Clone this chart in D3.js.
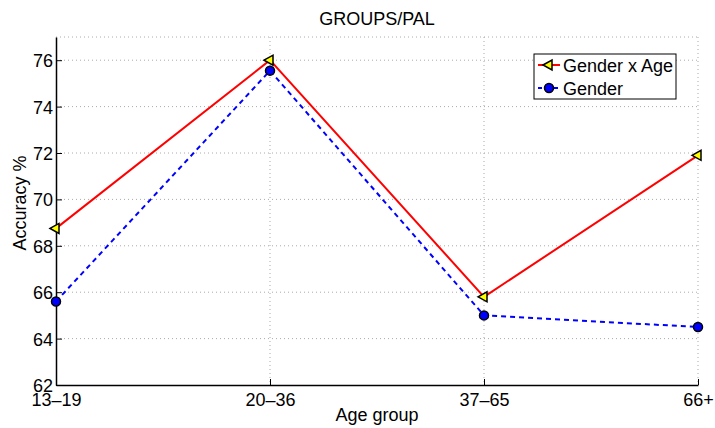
<!DOCTYPE html>
<html>
<head>
<meta charset="utf-8">
<script src="https://cdn.jsdelivr.net/npm/d3@7"></script>
<style>
	body { margin: 0; background: #fff; }
	svg text { font-family: "Liberation Sans", Arial, sans-serif; fill: #000; }
</style>
</head>
<body>
<svg id="chart" width="715" height="428"></svg>
<script>
// data
var ageGroups = ["13\u201319", "20\u201336", "37\u201365", "66+"];
var genderAge = [68.75, 76.0, 65.8, 71.9];
var gender = [65.6, 75.55, 65.0, 64.5];
var yTicks = [62, 64, 66, 68, 70, 72, 74, 76];

var margin = {top: 37, right: 17, bottom: 43, left: 56},
	width = 715 - margin.left - margin.right,
	height = 428 - margin.top - margin.bottom;

var fontSize = 18;

var svg = d3.select("#chart");
var g = svg.append("g").attr("transform", "translate(" + margin.left + "," + margin.top + ")");

var x = d3.scalePoint().domain(ageGroups).range([0, width]);
var y = d3.scaleLinear().domain([62, 77]).range([height, 0]);

// grid
g.append("g").selectAll("line")
	.data(yTicks.slice(1).concat([77]))
	.enter().append("line")
	.attr("x1", 0).attr("x2", width)
	.attr("y1", function (d) { return y(d); })
	.attr("y2", function (d) { return y(d); })
	.attr("stroke", "#aaa").attr("stroke-width", 1)
	.attr("stroke-dasharray", "1,3");

g.append("g").selectAll("line")
	.data(ageGroups.slice(1))
	.enter().append("line")
	.attr("x1", function (d) { return x(d); })
	.attr("x2", function (d) { return x(d); })
	.attr("y1", 0).attr("y2", height)
	.attr("stroke", "#aaa").attr("stroke-width", 1)
	.attr("stroke-dasharray", "1,3");

// axes, ticks pointing inward
var xAxis = g.append("g")
	.attr("transform", "translate(0," + height + ")")
	.call(d3.axisBottom(x).tickSizeInner(-6).tickSizeOuter(0).tickPadding(8));
var yAxis = g.append("g")
	.call(d3.axisLeft(y).tickValues(yTicks).tickSizeInner(-6).tickSizeOuter(0).tickPadding(3));

[xAxis, yAxis].forEach(function (ax) {
	ax.select(".domain").attr("stroke", "#000").attr("stroke-width", 1.5);
	ax.selectAll(".tick line").attr("stroke", "#000").attr("stroke-width", 1);
	ax.selectAll(".tick text").attr("font-size", fontSize).attr("font-family", "Liberation Sans, Arial, sans-serif");
});
yAxis.selectAll(".tick text").attr("dy", "0.36em");

// lines
var line = function (vals) {
	return d3.line()
		.x(function (d, i) { return x(ageGroups[i]); })
		.y(function (d) { return y(d); })(vals);
};

g.append("path").attr("d", line(gender))
	.attr("fill", "none").attr("stroke", "#0000ff")
	.attr("stroke-width", 2).attr("stroke-dasharray", "5,4");

g.append("path").attr("d", line(genderAge))
	.attr("fill", "none").attr("stroke", "#ff0000")
	.attr("stroke-width", 2);

var tri = "M-6,0L3,-5L3,5Z";

g.selectAll(".tri").data(genderAge).enter().append("path")
	.attr("class", "tri")
	.attr("d", tri)
	.attr("transform", function (d, i) { return "translate(" + x(ageGroups[i]) + "," + y(d) + ")"; })
	.attr("fill", "#ffff00").attr("stroke", "#000").attr("stroke-width", 1.5);

g.selectAll(".dot").data(gender).enter().append("circle")
	.attr("class", "dot")
	.attr("cx", function (d, i) { return x(ageGroups[i]); })
	.attr("cy", function (d) { return y(d); })
	.attr("r", 4.5)
	.attr("fill", "#0000ff").attr("stroke", "#000").attr("stroke-width", 1.5);

// labels
svg.append("text").attr("x", margin.left + width / 2).attr("y", 25)
	.attr("text-anchor", "middle").attr("font-size", fontSize).text("GROUPS/PAL");
svg.append("text").attr("x", margin.left + width / 2).attr("y", 421)
	.attr("text-anchor", "middle").attr("font-size", fontSize).text("Age group");
svg.append("text")
	.attr("transform", "translate(26,203) rotate(-90)")
	.attr("text-anchor", "middle").attr("font-size", fontSize).text("Accuracy %");

// legend
var lg = svg.append("g").attr("transform", "translate(534,54)");
lg.append("rect").attr("width", 142).attr("height", 45)
	.attr("fill", "#fff").attr("stroke", "#000").attr("stroke-width", 1);

lg.append("line").attr("x1", 4).attr("x2", 26).attr("y1", 11).attr("y2", 11)
	.attr("stroke", "#ff0000").attr("stroke-width", 2);
lg.append("path").attr("d", tri).attr("transform", "translate(15,11)")
	.attr("fill", "#ffff00").attr("stroke", "#000").attr("stroke-width", 1.5);
lg.append("text").attr("x", 29).attr("y", 17.5).attr("font-size", fontSize).text("Gender x Age");

lg.append("line").attr("x1", 4).attr("x2", 26).attr("y1", 34).attr("y2", 34)
	.attr("stroke", "#0000ff").attr("stroke-width", 2).attr("stroke-dasharray", "4,4");
lg.append("circle").attr("cx", 15).attr("cy", 34).attr("r", 4.5)
	.attr("fill", "#0000ff").attr("stroke", "#000").attr("stroke-width", 1.5);
lg.append("text").attr("x", 29).attr("y", 40.5).attr("font-size", fontSize).text("Gender");
</script>
</body>
</html>
